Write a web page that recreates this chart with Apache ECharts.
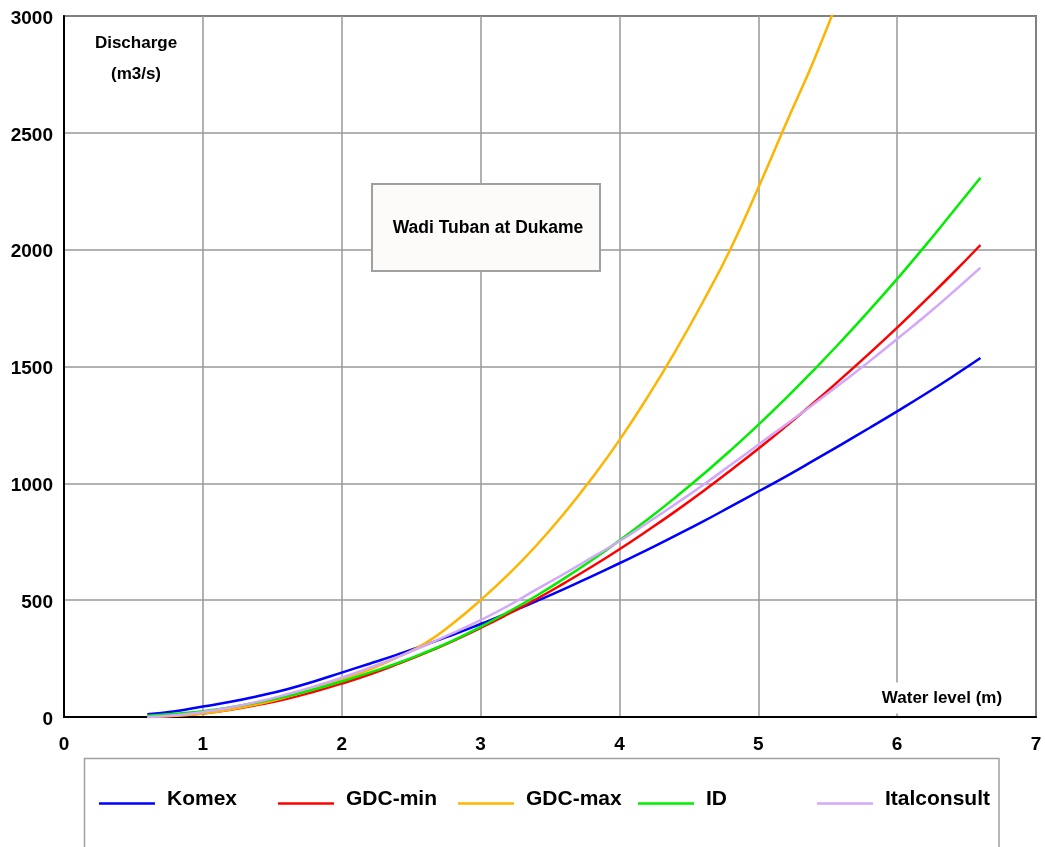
<!DOCTYPE html>
<html>
<head>
<meta charset="utf-8">
<script src="https://cdn.jsdelivr.net/npm/echarts@6/dist/echarts.min.js"></script>
<style>
html,body{margin:0;padding:0;background:#fff;}
#chart{width:1045px;height:847px;}
</style>
</head>
<body>
<div id="chart"></div>
<script>
// Water level (m)
const levels = [0.6,0.8,1.0,1.2,1.4,1.6,1.8,2.0,2.2,2.4,2.6,2.8,3.0,3.2,3.4,3.6,3.8,4.0,4.2,4.4,4.6,4.8,5.0,5.2,5.4,5.6,5.8,6.0,6.2,6.4,6.6];
// Discharge (m3/s)
const komex = [12,25,45,65,90,118,152,190,228,267,308,352,398,445,495,547,602,658,715,775,836,900,965,1030,1098,1167,1237,1308,1381,1457,1536];
const gdcMin = [0,4,15,31,52,77,108,143,182,226,273,325,381,441,504,572,643,718,797,879,965,1055,1148,1245,1345,1449,1556,1666,1781,1898,2020];
const gdcMax = [0,5,15,32,55,85,120,160,203,255,315,400,500,610,733,870,1021,1185,1367,1563,1775,2003,2265,2540,2810,3110];
const idSeries = [5,14,25,42,63,88,118,152,190,230,276,327,386,450,518,592,671,755,844,938,1037,1141,1250,1365,1485,1610,1740,1875,2015,2161,2308];
const italconsult = [0,7,21,41,66,96,130,168,211,256,306,359,415,476,545,612,682,752,830,910,992,1078,1165,1252,1340,1430,1522,1618,1715,1817,1923];

const seriesNames = ['Komex','GDC-min','GDC-max','ID','Italconsult'];
const seriesValues = [komex, gdcMin, gdcMax, idSeries, italconsult];
const seriesColors = ['#0000ff','#ff0000','#ffb400','#00ee00','#d3a8fa'];

const xTicks = [0,1,2,3,4,5,6,7];
const yTicks = [0,500,1000,1500,2000,2500,3000];

const FONT = 'Arial, "Liberation Sans", sans-serif';
const legendLefts = [99, 278, 458, 638, 817];

const chart = echarts.init(document.getElementById('chart'), null, {renderer:'canvas'});

const option = {
  animation: false,
  backgroundColor: '#fff',
  grid: {left: 64, top: 16, right: 9, bottom: 130, show: true, borderColor: '#000', borderWidth: 1.5, backgroundColor: 'transparent'},
  xAxis: {
    type: 'value', min: xTicks[0], max: xTicks[xTicks.length-1], interval: 1,
    axisLine: {show: true, onZero: false, lineStyle: {color: '#000', width: 2}},
    axisTick: {show: false},
    splitLine: {show: true, lineStyle: {color: '#999', width: 1.5}},
    axisLabel: {color: '#000', fontWeight: 'bold', fontSize: 19, fontFamily: FONT, margin: 18, formatter: v => String(v)}
  },
  yAxis: {
    type: 'value', min: yTicks[0], max: yTicks[yTicks.length-1], interval: 500,
    axisLine: {show: true, onZero: false, lineStyle: {color: '#000', width: 2}},
    axisTick: {show: false},
    splitLine: {show: true, lineStyle: {color: '#999', width: 1.5}},
    axisLabel: {
      color: '#000', fontWeight: 'bold', fontSize: 19, fontFamily: FONT, margin: 11,
      formatter: v => '{s| }\n{n|' + v + '}',
      rich: {
        s: {fontSize: 5, lineHeight: 5},
        n: {color: '#000', fontWeight: 'bold', fontSize: 19, fontFamily: FONT}
      }
    }
  },
  legend: seriesNames.map((n, i) => ({
    data: [n],
    left: legendLefts[i],
    top: 789,
    icon: 'rect',
    itemWidth: 56,
    itemHeight: 2.5,
    itemGap: 0,
    padding: 0,
    formatter: name => '{t|' + name + '}\n{s| }',
    textStyle: {
      color: '#000', fontWeight: 'bold', fontSize: 21, fontFamily: FONT,
      rich: {
        t: {color: '#000', fontWeight: 'bold', fontSize: 21, fontFamily: FONT, padding: [0,0,0,7]},
        s: {fontSize: 8, lineHeight: 8}
      }
    }
  })),
  graphic: [
    {type: 'rect', z: 0, silent: true, shape: {x: 84.5, y: 758.5, width: 914.5, height: 120}, style: {fill: '#fff', stroke: '#a0a0a0', lineWidth: 1.5}},
    {type: 'rect', z: 10, silent: true, shape: {x: 372, y: 184, width: 228, height: 87}, style: {fill: '#fcfbfa', stroke: '#a0a0a0', lineWidth: 2}},
    {type: 'text', z: 11, silent: true, x: 488, y: 228, style: {text: 'Wadi Tuban at Dukame', fill: '#000', font: 'bold 17.5px ' + FONT, textAlign: 'center', textVerticalAlign: 'middle'}},
    {type: 'text', z: 11, silent: true, x: 136, y: 43, style: {text: 'Discharge', fill: '#000', font: 'bold 17px ' + FONT, textAlign: 'center', textVerticalAlign: 'middle'}},
    {type: 'text', z: 11, silent: true, x: 136, y: 74, style: {text: '(m3/s)', fill: '#000', font: 'bold 17px ' + FONT, textAlign: 'center', textVerticalAlign: 'middle'}},
    {type: 'text', z: 11, silent: true, x: 942, y: 698, style: {text: 'Water level (m)', fill: '#000', font: 'bold 17px ' + FONT, textAlign: 'center', textVerticalAlign: 'middle', backgroundColor: '#fff', padding: [7, 8]}}
  ],
  series: seriesNames.map((n, i) => ({
    name: n,
    type: 'line',
    data: seriesValues[i].map((v, j) => [levels[j], v]),
    smooth: true,
    symbol: 'none',
    clip: true,
    color: seriesColors[i],
    lineStyle: {color: seriesColors[i], width: 2.5},
    z: 3 + i
  }))
};
chart.setOption(option);
</script>
</body>
</html>
